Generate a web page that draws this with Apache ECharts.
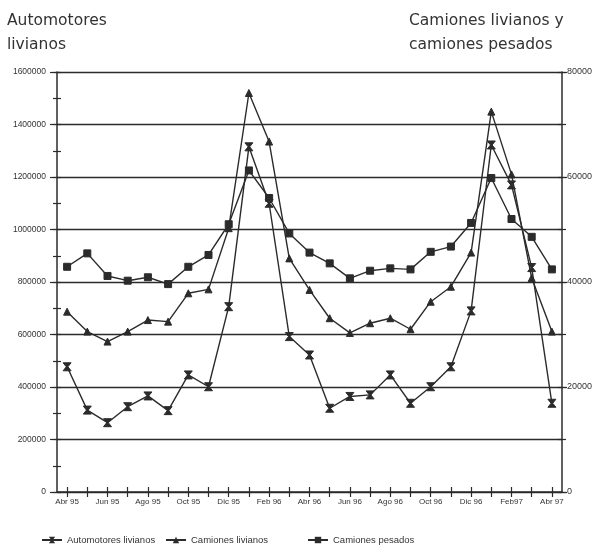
<!DOCTYPE html>
<html><head><meta charset="utf-8">
<script src="https://cdn.jsdelivr.net/npm/echarts@6/dist/echarts.min.js"></script>
<style>html,body{margin:0;padding:0;background:#fff}#c{width:603px;height:553px}</style>
</head><body><div id="c"></div>
<script>
// Months (Abr 95 .. Abr 97)
const categories = ['Abr 95','May 95','Jun 95','Jul 95','Ago 95','Sep 95','Oct 95','Nov 95','Dic 95','Ene 96','Feb 96','Mar 96','Abr 96','May 96','Jun 96','Jul 96','Ago 96','Sep 96','Oct 96','Nov 96','Dic 96','Ene 97','Feb97','Mar 97','Abr 97'];
// Left axis: Automotores livianos
const automotoresLivianos = [477000,312000,264000,325000,366000,310000,446000,401000,706000,1315000,1100000,592000,522000,319000,364000,370000,446000,338000,401000,477000,690000,1322000,1170000,855000,338000];
// Right axis: Camiones livianos
const camionesLivianos = [34350,30550,28650,30550,32750,32450,37850,38600,50250,76000,66750,44500,38500,33100,30300,32150,33100,31000,36250,39100,45600,72450,60500,40750,30550];
// Right axis: Camiones pesados
const camionesPesados = [42900,45450,41150,40250,40900,39600,42900,45150,51000,61250,56000,49250,45600,43550,40700,42150,42600,42400,45750,46750,51250,59800,52000,48600,42400];
const seriesNames = ['Automotores livianos', 'Camiones livianos', 'Camiones pesados'];

const ink = '#2b2b2b';
const hourglass = 'path://M0,0H10L6,5L10,10H0L4,5Z';
const plain = v => String(v);
const legendText = {fontFamily: 'Liberation Sans', fontSize: 9.5, color: '#333'};
const legendAt = (name, left) => ({bottom: 3, left: left, itemWidth: 20, itemHeight: 8, textStyle: legendText, data: [name]});

const chart = echarts.init(document.getElementById('c'));
chart.setOption({
  backgroundColor: '#fff',
  animation: false,
  title: [
    {text: 'Automotores\nlivianos', left: 2, top: 4,
     textStyle: {fontFamily: 'DejaVu Sans', fontSize: 15.5, fontWeight: 'normal', color: '#333', lineHeight: 24}},
    {text: 'Camiones livianos y\ncamiones pesados', left: 404, top: 4,
     textStyle: {fontFamily: 'DejaVu Sans', fontSize: 15.5, fontWeight: 'normal', color: '#333', lineHeight: 24}}
  ],
  grid: {left: 57, right: 41, top: 72, bottom: 61, containLabel: false},
  legend: [legendAt(seriesNames[0], 36), legendAt(seriesNames[1], 160), legendAt(seriesNames[2], 302)],
  xAxis: [
    {type: 'category', data: categories, boundaryGap: true,
     axisLine: {lineStyle: {color: ink, width: 1.5}},
     axisTick: {show: true, alignWithLabel: true, interval: 0, length: 5, lineStyle: {color: ink, width: 1.2}},
     axisLabel: {interval: 1, fontFamily: 'Liberation Sans', fontSize: 8, color: '#333', margin: 6},
     splitLine: {show: false}},
    {type: 'category', data: categories, boundaryGap: true, position: 'bottom', offset: -5,
     axisLine: {show: false},
     axisTick: {show: true, alignWithLabel: true, interval: 0, length: 5, lineStyle: {color: ink, width: 1.2}},
     axisLabel: {show: false}, splitLine: {show: false}}
  ],
  yAxis: [
    {type: 'value', position: 'left', min: 0, max: 1600000, interval: 200000,
     axisLine: {show: true, lineStyle: {color: ink, width: 1.5}},
     axisTick: {show: true, length: 7, lineStyle: {color: ink, width: 1.2}},
     minorTick: {show: false},
     axisLabel: {formatter: plain, fontFamily: 'Liberation Sans', fontSize: 8.5, color: '#333', margin: 11},
     splitLine: {show: true, lineStyle: {color: ink, width: 1.3}}},
    {type: 'value', position: 'right', min: 0, max: 80000, interval: 20000,
     axisLine: {show: true, lineStyle: {color: ink, width: 1.5}},
     axisTick: {show: true, length: 5, lineStyle: {color: ink, width: 1.2}},
     minorTick: {show: false},
     axisLabel: {formatter: plain, fontFamily: 'Liberation Sans', fontSize: 9, color: '#333', margin: 5},
     splitLine: {show: false}},
    {type: 'value', position: 'left', offset: -4, min: 0, max: 1600000, interval: 100000,
     axisLine: {show: false}, axisLabel: {show: false}, splitLine: {show: false},
     axisTick: {show: true, length: 8, lineStyle: {color: ink, width: 1.2}}},
    {type: 'value', position: 'right', offset: -4, min: 0, max: 80000, interval: 10000,
     axisLine: {show: false}, axisLabel: {show: false}, splitLine: {show: false},
     axisTick: {show: true, length: 8, lineStyle: {color: ink, width: 1.2}}}
  ],
  series: [
    {name: seriesNames[0], type: 'line', xAxisIndex: 0, yAxisIndex: 0, data: automotoresLivianos,
     symbol: hourglass, symbolSize: [8, 8], showAllSymbol: true,
     lineStyle: {color: ink, width: 1.4}, itemStyle: {color: ink, borderColor: ink}},
    {name: seriesNames[1], type: 'line', xAxisIndex: 0, yAxisIndex: 1, data: camionesLivianos,
     symbol: 'triangle', symbolSize: 7, showAllSymbol: true,
     lineStyle: {color: ink, width: 1.4}, itemStyle: {color: ink, borderColor: ink}},
    {name: seriesNames[2], type: 'line', xAxisIndex: 0, yAxisIndex: 1, data: camionesPesados,
     symbol: 'rect', symbolSize: 7, showAllSymbol: true,
     lineStyle: {color: ink, width: 1.4}, itemStyle: {color: ink, borderColor: ink}}
  ]
});
</script>
</body></html>
